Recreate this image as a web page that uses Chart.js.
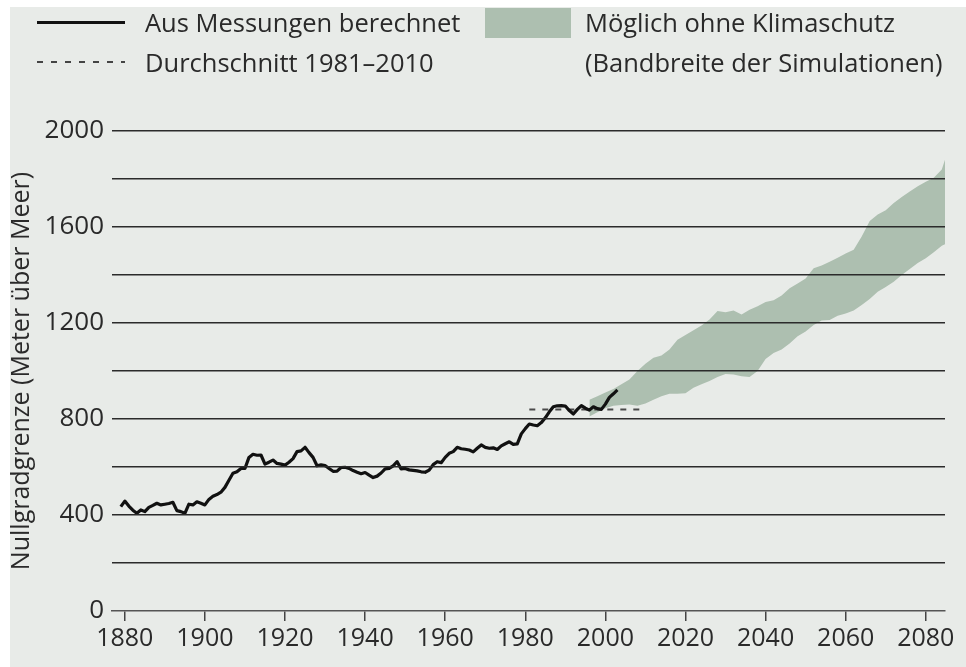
<!DOCTYPE html>
<html lang="de">
<head>
<meta charset="utf-8">
<title>Nullgradgrenze</title>
<script src="https://cdn.jsdelivr.net/npm/chart.js@4.4.1/dist/chart.umd.min.js"></script>
<style>
  html, body { margin: 0; padding: 0; background: #fff; }
  body { width: 966px; height: 667px; position: relative; overflow: hidden; font-family: 'Open Sans', sans-serif; color: #2a2a2a; }
  #panel { position: absolute; left: 10px; top: 7px; right: 0; bottom: 0; background: #e8ebe8; }
  #wrap { position: absolute; left: 0; top: 0; width: 966px; height: 667px; }
  .lg-text { position: absolute; font-size: 25.5px; line-height: 32px; white-space: nowrap; }
  .lg-solid { position: absolute; left: 37px; top: 21px; width: 88px; height: 3px; background: #111; }
  .lg-dash { position: absolute; left: 37px; top: 61px; width: 88px; height: 2px;
    background: repeating-linear-gradient(to right, #444 0 6px, transparent 6px 14px); }
  .lg-box { position: absolute; left: 485px; top: 8px; width: 86px; height: 30px; background: #adbfb0; }
</style>
</head>
<body>
<div id="panel"></div>
<div id="wrap"><canvas id="chart" width="966" height="667"></canvas></div>
<div class="lg-solid"></div>
<div class="lg-text" style="left:145px;top:6px">Aus Messungen berechnet</div>
<div class="lg-dash"></div>
<div class="lg-text" style="left:145px;top:46px">Durchschnitt 1981–2010</div>
<div class="lg-box"></div>
<div class="lg-text" style="left:585px;top:6px">Möglich ohne Klimaschutz</div>
<div class="lg-text" style="left:585px;top:46px">(Bandbreite der Simulationen)</div>
<script>
// Nullgradgrenze - measured series, 1981-2010 mean and simulated band

const measuredStart = 1879;
const measured = [
  435, 458, 437, 420, 407, 421, 414, 432, 440, 449,   // 1879-1888
  442, 445, 448, 453, 418, 414, 407, 445, 442, 455,   // 1889-1898
  449, 442, 465, 478, 485, 495, 515, 545, 574, 580,   // 1899-1908
  594, 594, 640, 653, 649, 650, 612, 620, 629, 615,   // 1909-1918
  612, 608, 620, 635, 664, 667, 682, 660, 640, 605,   // 1919-1928
  609, 606, 594, 582, 583, 598, 599, 594, 585, 578,   // 1929-1938
  572, 577, 566, 556, 562, 575, 592, 594, 605, 622,   // 1939-1948
  592, 594, 588, 586, 584, 580, 578, 587, 610, 622,   // 1949-1958
  618, 640, 657, 664, 682, 676, 674, 671, 663, 678,   // 1959-1968
  692, 682, 678, 680, 673, 688, 697, 705, 694, 696,   // 1969-1978
  738, 760, 779, 775, 772, 785, 805, 830, 851, 855,   // 1979-1988
  856, 854, 835, 821, 840, 856, 845, 837, 851, 843,   // 1989-1998
  840, 862, 890, 905, 921                             // 1999-2003
];

const meanYears = [1981, 2010];
const meanValue = 840;

const bandYears = [1996, 1998, 2000, 2002, 2004, 2006, 2008, 2010, 2012, 2014,
  2016, 2018, 2020, 2022, 2024, 2026, 2028, 2030, 2032, 2034,
  2036, 2038, 2040, 2042, 2044, 2046, 2048, 2050, 2052, 2054,
  2056, 2058, 2060, 2062, 2064, 2066, 2068, 2070, 2072, 2074,
  2076, 2078, 2080, 2082, 2084, 2085];
const bandLow = [810, 828, 845, 855, 858, 860, 855, 865, 880, 895,
  905, 905, 907, 930, 945, 958, 975, 988, 985, 978,
  975, 1000, 1050, 1075, 1090, 1115, 1145, 1165, 1192, 1210,
  1213, 1230, 1240, 1252, 1275, 1300, 1330, 1350, 1372, 1400,
  1425, 1450, 1470, 1495, 1522, 1530];
const bandHigh = [880, 895, 910, 925, 945, 965, 1000, 1030, 1055, 1065,
  1090, 1130, 1150, 1170, 1190, 1215, 1250, 1245, 1252, 1235,
  1255, 1270, 1288, 1295, 1315, 1345, 1365, 1385, 1428, 1440,
  1455, 1472, 1490, 1505, 1560, 1625, 1652, 1670, 1700, 1725,
  1748, 1770, 1789, 1805, 1840, 1890];

const xTicks = [1880, 1900, 1920, 1940, 1960, 1980, 2000, 2020, 2040, 2060, 2080];
const yTicks = [0, 200, 400, 600, 800, 1000, 1200, 1400, 1600, 1800, 2000];
const yLabelled = [0, 400, 800, 1200, 1600, 2000];

const BAND = '#adbfb0';
const TEXT = '#2a2a2a';
const FONT = "'Open Sans', sans-serif";

const measuredPts = measured.map((v, i) => ({ x: measuredStart + i, y: v }));
const lowPts = bandYears.map((yr, i) => ({ x: yr, y: bandLow[i] }));
const highPts = bandYears.map((yr, i) => ({ x: yr, y: bandHigh[i] }));
const meanPts = meanYears.map(yr => ({ x: yr, y: meanValue }));

new Chart(document.getElementById('chart'), {
  type: 'line',
  data: {
    datasets: [
      { label: 'low', data: lowPts, borderWidth: 0, pointRadius: 0, borderColor: BAND, fill: false, order: 3 },
      { label: 'Möglich ohne Klimaschutz', data: highPts, borderWidth: 0, pointRadius: 0, borderColor: BAND,
        backgroundColor: BAND, fill: '-1', order: 3 },
      { label: 'Durchschnitt 1981–2010', data: meanPts, borderColor: '#4a4a4a', borderWidth: 2,
        borderDash: [6, 7], pointRadius: 0, fill: false, order: 2 },
      { label: 'Aus Messungen berechnet', data: measuredPts, borderColor: '#111', borderWidth: 3.2,
        pointRadius: 0, tension: 0, fill: false, borderJoinStyle: 'round', order: 1 },
    ],
  },
  options: {
    responsive: false, animation: false,
    layout: { padding: { top: 131, right: 21, left: 0, bottom: 0 } },
    plugins: { legend: { display: false }, tooltip: { enabled: false } },
    scales: {
      x: {
        type: 'linear', min: 1876.8, max: 2084.8,
        afterBuildTicks: (s) => { s.ticks = xTicks.map(v => ({ value: v })); },
        afterFit: (s) => { s.height = 56; },
        grid: { drawOnChartArea: false, drawTicks: true, tickLength: 10, color: '#444', lineWidth: 1.5 },
        border: { display: true, color: '#555', width: 1.5 },
        ticks: { color: TEXT, font: { family: FONT, size: 25 }, padding: 3, maxRotation: 0, autoSkip: false,
          callback: (v) => String(v) },
      },
      y: {
        min: 0, max: 2000,
        afterBuildTicks: (s) => { s.ticks = yTicks.map(v => ({ value: v })); },
        afterFit: (s) => { s.width = 112; },
        grid: { drawTicks: false, z: 1, color: (c) => c.tick && c.tick.value === 0 ? 'rgba(0,0,0,0)' : '#2b2b2b', lineWidth: 1.5 },
        border: { display: false },
        ticks: { color: TEXT, font: { family: FONT, size: 26 }, padding: 8,
          callback: (v) => yLabelled.includes(v) ? String(v) : '' },
        title: { display: true, text: 'Nullgradgrenze (Meter über Meer)', color: TEXT,
          font: { family: FONT, size: 25 }, padding: { top: 7, bottom: 0 } },
      },
    },
  },
});
</script>
</body>
</html>
